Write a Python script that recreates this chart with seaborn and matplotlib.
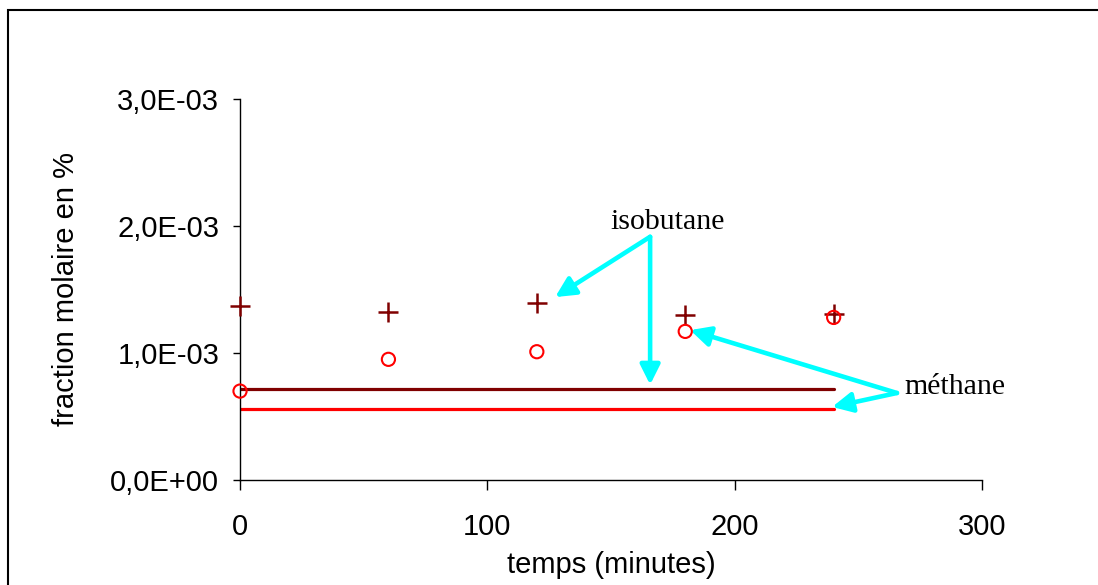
import numpy as np
import pandas as pd
import seaborn as sns
import matplotlib.pyplot as plt
from matplotlib.patches import Rectangle
from matplotlib.ticker import FuncFormatter

# données
temps = [0, 60, 120, 180, 240]
isobutane = [1.37e-3, 1.32e-3, 1.39e-3, 1.30e-3, 1.31e-3]
methane = [0.70e-3, 0.95e-3, 1.01e-3, 1.17e-3, 1.28e-3]
ligne_temps = [0, 240]
ligne_isobutane = [0.717e-3, 0.717e-3]
ligne_methane = [0.56e-3, 0.56e-3]

sns.set_style("ticks")
plt.rcParams['font.family'] = ['Liberation Sans', 'DejaVu Sans']
plt.rcParams['text.color'] = 'black'
plt.rcParams['axes.labelcolor'] = 'black'

fig = plt.figure(figsize=(10.98, 5.85), dpi=100)
ax = fig.add_axes([0.2186, 0.1795, 0.6758, 0.6513])

df_iso = pd.DataFrame({'temps': temps, 'x': isobutane})
df_met = pd.DataFrame({'temps': temps, 'x': methane})

sns.lineplot(x=ligne_temps, y=ligne_isobutane, color='#800000', lw=2.3, ax=ax)
sns.lineplot(x=ligne_temps, y=ligne_methane, color='#ff0000', lw=2.3, ax=ax)
sns.scatterplot(data=df_iso, x='temps', y='x', marker='+', s=220, color='#800000',
                linewidth=1.8, ax=ax, zorder=5, clip_on=False)
sns.scatterplot(data=df_met, x='temps', y='x', marker='o', s=90, facecolor='none',
                edgecolor='#ff0000', linewidth=1.5, ax=ax, zorder=5, clip_on=False)

ax.set_xlim(0, 300)
ax.set_ylim(0, 3e-3)
ax.set_xticks([0, 100, 200, 300])
ax.set_yticks([0, 1e-3, 2e-3, 3e-3])


def fmt(v, pos):
    s = "%.1E" % v
    return s.replace('.', ',')


ax.yaxis.set_major_formatter(FuncFormatter(fmt))
ax.tick_params(axis='both', labelsize=21, width=1, direction='out', colors='black')
ax.tick_params(axis='y', length=5, pad=10)
ax.tick_params(axis='x', length=7, pad=17)
ax.set_xlabel('temps (minutes)', fontsize=21, labelpad=7)
ax.set_ylabel('fraction molaire en %', fontsize=21, labelpad=22)
sns.despine(ax=ax)
for sp in ['left', 'bottom']:
    ax.spines[sp].set_linewidth(1)
    ax.spines[sp].set_color('black')

# flèches
fleche = dict(arrowstyle='-|>', color='#00ffff', lw=3.3, mutation_scale=30, shrinkA=0, shrinkB=0)
ax.annotate('', xy=(127.4, 1.44e-3), xytext=(165.8, 1.915e-3), arrowprops=fleche)
ax.annotate('', xy=(165.8, 0.75e-3), xytext=(165.8, 1.915e-3), arrowprops=fleche)
ax.annotate('', xy=(182, 1.18e-3), xytext=(265.6, 0.685e-3), arrowprops=fleche)
ax.annotate('', xy=(239.4, 0.575e-3), xytext=(265.6, 0.685e-3), arrowprops=fleche)
ax.text(173, 2.03e-3, 'isobutane', fontsize=21.5, family=['Liberation Serif', 'DejaVu Serif'],
        ha='center', va='center', color='black')
ax.text(289, 0.73e-3, 'méthane', fontsize=21.5, family=['Liberation Serif', 'DejaVu Serif'],
        ha='center', va='center', color='black')

# cadre de la figure
fig.patches.append(Rectangle((8 / 1098, -0.1), 1.2, 1.1 - 10 / 585, transform=fig.transFigure,
                             fill=False, edgecolor='black', lw=1.5))

fig.savefig('out.png', dpi=100)
